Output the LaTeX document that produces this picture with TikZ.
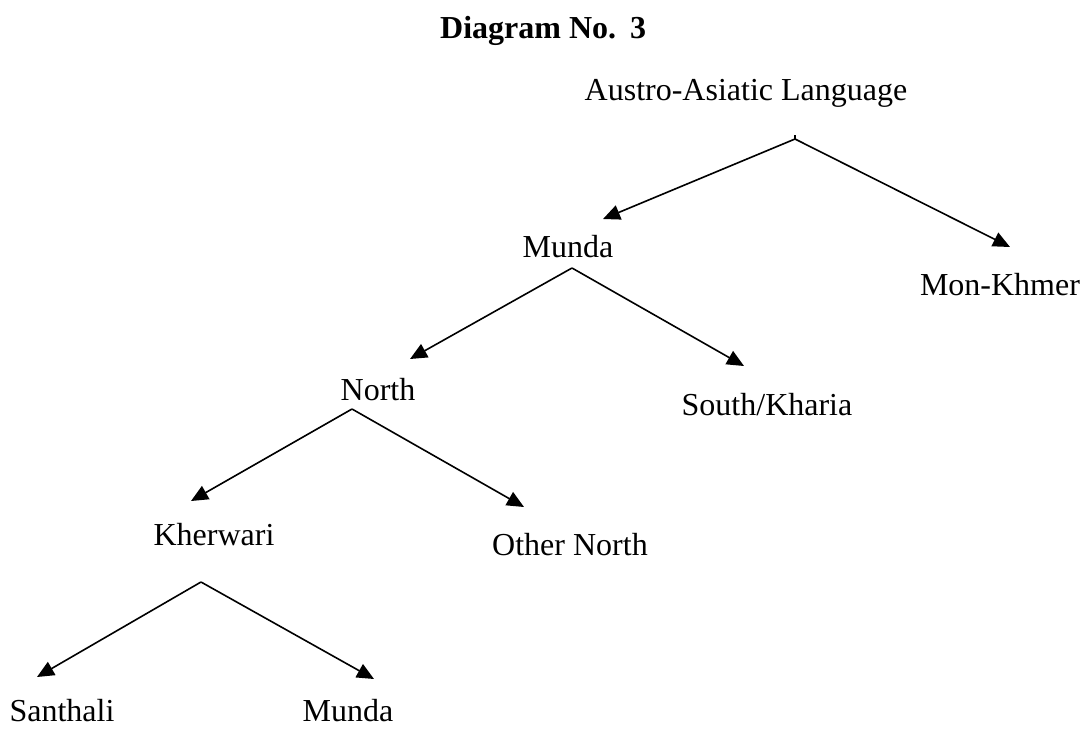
\documentclass[tikz,border=0pt]{standalone}
\usepackage{fontspec}
\setmainfont{Liberation Serif}
\usetikzlibrary{arrows.meta}
\begin{document}
\begin{tikzpicture}[x=1pt,y=-1pt,
  lbl/.style={anchor=base,inner sep=0pt,font=\fontsize{32}{38}\selectfont},
  ttl/.style={anchor=base west,inner sep=0pt,font=\fontsize{32}{38}\selectfont\bfseries},
  arr/.style={line width=1.6pt,-{Triangle[length=17pt,width=15pt]}}]
\useasboundingbox (0,0) rectangle (1083,729);
% labels
\node[ttl] (title) at (440,38) {Diagram No.\hspace{14pt}3};
\node[lbl] (aal) at (746,100) {Austro-Asiatic Language};
\node[lbl] (mundaA) at (568,257) {Munda};
\node[lbl] (monkhmer) at (1000,295) {Mon-Khmer};
\node[lbl] (north) at (378,400) {North};
\node[lbl] (south) at (767,415) {South/Kharia};
\node[lbl] (kherwari) at (214,545) {Kherwari};
\node[lbl] (other) at (570,555) {Other North};
\node[lbl] (santhali) at (62,721) {Santhali};
\node[lbl] (mundaB) at (348,721) {Munda};
% fork points and arrow ends
\coordinate (f1) at (795,139);
\coordinate (f1top) at (795,135);
\coordinate (t1a) at (603,219);
\coordinate (t1b) at (1010,247);
\coordinate (f2) at (572,268);
\coordinate (t2a) at (410,359);
\coordinate (t2b) at (744,366);
\coordinate (f3) at (352,409);
\coordinate (t3a) at (191,501);
\coordinate (t3b) at (524,507);
\coordinate (f4) at (201,582);
\coordinate (t4a) at (37,677);
\coordinate (t4b) at (374,679);
% connectors
\draw[line width=1.2pt] (f1top) -- (f1);
\draw[arr] (f1) -- (t1a);
\draw[arr] (f1) -- (t1b);
\draw[arr] (f2) -- (t2a);
\draw[arr] (f2) -- (t2b);
\draw[arr] (f3) -- (t3a);
\draw[arr] (f3) -- (t3b);
\draw[arr] (f4) -- (t4a);
\draw[arr] (f4) -- (t4b);
\end{tikzpicture}
\end{document}
